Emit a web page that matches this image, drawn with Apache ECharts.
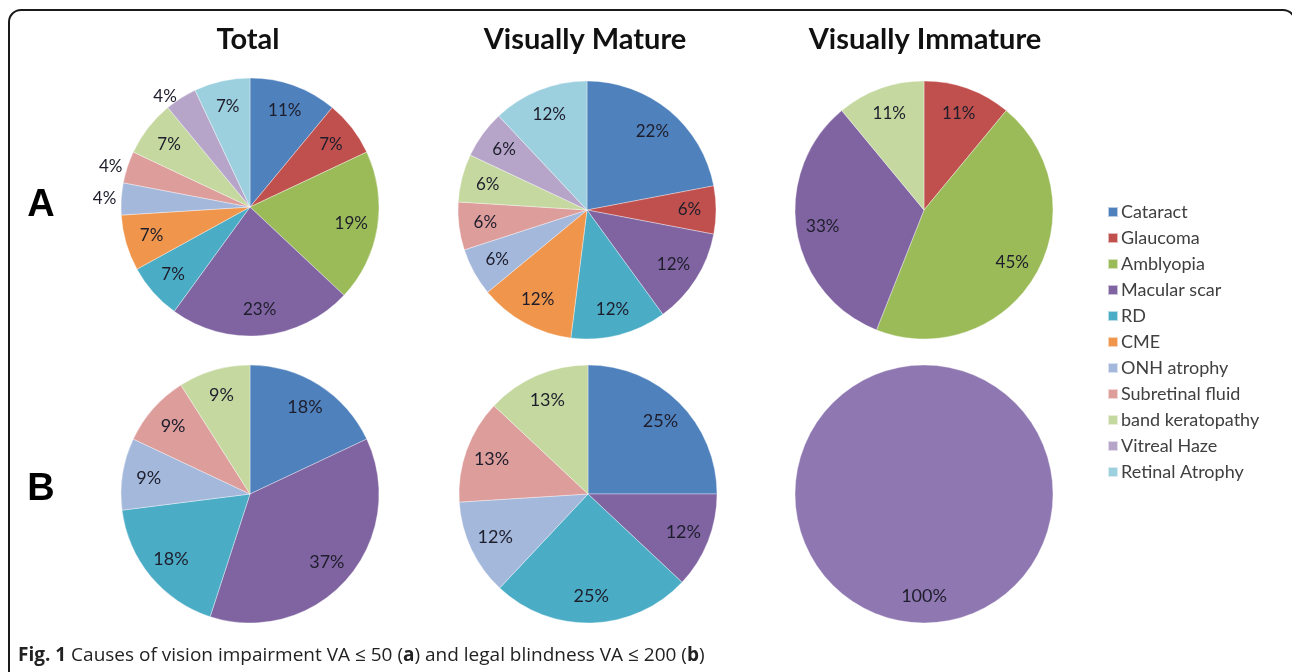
<!DOCTYPE html>
<html>
<head>
<meta charset="utf-8">
<script src="https://cdn.jsdelivr.net/npm/echarts@6/dist/echarts.min.js"></script>
<style>
    html, body { margin: 0; padding: 0; background: #fff; }
    #chartPies { width: 1292px; height: 672px; }
</style>
</head>
<body>
<div id="chartPies"></div>
<script>
    // categories, in the order Excel draws them (clockwise from 12 o'clock)
    const categories = ['Cataract', 'Glaucoma', 'Amblyopia', 'Macular scar', 'RD', 'CME',
        'ONH atrophy', 'Subretinal fluid', 'band keratopathy', 'Vitreal Haze', 'Retinal Atrophy'];
    const panelTitles = ['Total', 'Visually Mature', 'Visually Immature'];
    const rowLetters = ['A', 'B'];

    // percentages per pie (0 = cause not present)
    const aTotal     = [11, 7, 19, 23, 7, 7, 4, 4, 7, 4, 7];
    const aMature    = [22, 6, 0, 12, 12, 12, 6, 6, 6, 6, 12];
    const aImmature  = [0, 11, 45, 33, 0, 0, 0, 0, 11, 0, 0];
    const bTotal     = [18, 0, 0, 37, 18, 0, 9, 9, 9, 0, 0];
    const bMature    = [25, 0, 0, 12, 25, 0, 12, 13, 13, 0, 0];
    const bImmature  = [0, 0, 0, 100, 0, 0, 0, 0, 0, 0, 0];

    const caption = 'Causes of vision impairment VA ≤ 50 (';

    const colors = ['#4f81bd', '#c0504d', '#9bbb59', '#8064a2', '#4bacc6', '#f0964c',
        '#a4b8dc', '#dd9d9b', '#c5d8a0', '#b6a5c9', '#9dd0df'];

    const labelFont = 'Lato, "Noto Sans", sans-serif';

    // colored pie + transparent ring that only carries the labels (Excel puts labels ~3/4 out)
    function pies(values, center, fontSize, outside, overrideColor) {
        const data = [];
        const labels = [];
        values.forEach((v, i) => {
            if (!v) return;
            data.push({
                name: categories[i],
                value: v,
                itemStyle: { color: overrideColor || colors[i] }
            });
            const lab = { name: categories[i], value: v };
            if (outside.indexOf(i) >= 0) {
                lab.label = { position: 'outside', distanceToLabelLine: 3 };
                lab.labelLine = { show: false, length: 2, length2: 0 };
            }
            labels.push(lab);
        });
        const main = {
            type: 'pie',
            center: center,
            radius: 129,
            startAngle: 90,
            silent: true,
            label: { show: false },
            labelLine: { show: false },
            itemStyle: { borderColor: 'rgba(255,255,255,0.6)', borderWidth: 0.6 },
            data: data
        };
        const ring = {
            type: 'pie',
            center: center,
            radius: [70, 129],
            startAngle: 90,
            silent: true,
            avoidLabelOverlap: false,
            itemStyle: { color: 'rgba(0,0,0,0)' },
            label: {
                show: true,
                position: 'inside',
                formatter: '{c}%',
                color: '#1d1d2b',
                fontFamily: labelFont,
                fontSize: fontSize
            },
            labelLine: { show: false },
            data: labels
        };
        return [main, ring];
    }

    const groups = [
        pies(aTotal, [250, 207], 17, [6, 7, 9]),
        pies(aMature, [587, 210], 17, []),
        pies(aImmature, [924, 210], 17, []),
        pies(bTotal, [250, 494], 18, []),
        pies(bMature, [588, 494], 18, []),
        pies(bImmature, [924, 494], 18, [], '#8f78b1')
    ];
    const series = groups.map(g => g[0]).concat(groups.map(g => g[1]));

    const graphics = [
        {
            type: 'rect',
            shape: { x: 9, y: 10, width: 1286, height: 720, r: 12 },
            style: { fill: 'none', stroke: '#1a1a1a', lineWidth: 2 },
            silent: true
        }
    ];
    [248, 585, 925].forEach((x, i) => {
        graphics.push({
            type: 'text', x: x, y: 40,
            style: {
                text: panelTitles[i], textAlign: 'center', textVerticalAlign: 'middle',
                font: 'bold 29px Lato, "Noto Sans", sans-serif', fill: '#111'
            }
        });
    });
    [206, 490].forEach((y, i) => {
        graphics.push({
            type: 'text', x: 41, y: y,
            style: {
                text: rowLetters[i], textAlign: 'center', textVerticalAlign: 'middle',
                font: 'bold 38px "Liberation Sans", Arial, sans-serif', fill: '#000'
            }
        });
    });
    graphics.push({
        type: 'text', x: 18, y: 656,
        style: {
            text: '{b|Fig. 1} ' + caption + '{b|a}) and legal blindness VA ≤ 200 ({b|b})',
            textVerticalAlign: 'middle',
            font: '19px "Liberation Sans Narrow", "Open Sans", sans-serif',
            fill: '#222',
            rich: {
                b: { fontWeight: 'bold', fontSize: 19, fontFamily: '"Liberation Sans Narrow", "Open Sans", sans-serif', fill: '#222' }
            }
        }
    });

    const option = {
        animation: false,
        legend: {
            orient: 'vertical',
            left: 1102,
            top: 198,
            itemWidth: 10,
            itemHeight: 10,
            itemGap: 8,
            icon: 'rect',
            selectedMode: false,
            textStyle: { fontFamily: labelFont, fontSize: 18, color: '#404040', lineHeight: 18, padding: [0, 0, 0, -2] },
            data: categories
        },
        graphic: graphics,
        series: series
    };

    const myChart = echarts.init(document.getElementById('chartPies'));
    myChart.setOption(option);
</script>
</body>
</html>
